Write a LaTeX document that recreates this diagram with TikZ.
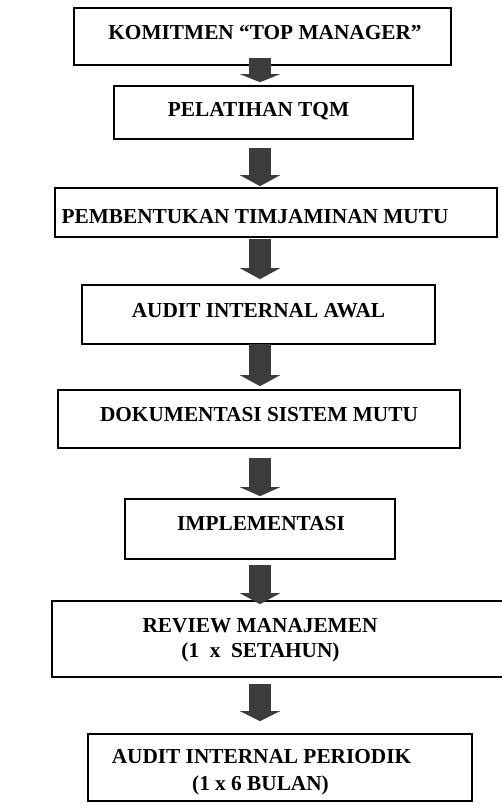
\documentclass[tikz,border=0pt]{standalone}
\usepackage{fontspec}
\setmainfont{Liberation Serif}
\usetikzlibrary{arrows.meta}
\definecolor{arrowgray}{HTML}{3C3C3C}
\tikzset{
  box/.style={draw=black, line width=1.7pt, fill=white, rectangle, inner sep=0pt},
  txt/.style={inner sep=0pt, anchor=base, font=\fontsize{21.3}{25}\selectfont\bfseries},
  blockarrow/.style={draw=arrowgray, line width=22pt, line cap=butt,
    -{Triangle[width=40pt,length=11pt]}}
}
\begin{document}
\begin{tikzpicture}[x=1pt,y=-1pt]
\useasboundingbox (0,0) rectangle (501,805);
% boxes
\node[box, minimum width=377pt, minimum height=57pt] (b1) at (262.5,36.5) {};
\node[box, minimum width=299pt, minimum height=53pt] (b2) at (263.5,112.5) {};
\node[box, minimum width=442pt, minimum height=49pt] (b3) at (276,212.5) {};
\node[box, minimum width=353pt, minimum height=59pt] (b4) at (258.5,314.5) {};
\node[box, minimum width=402pt, minimum height=58pt] (b5) at (259,419) {};
\node[box, minimum width=270pt, minimum height=60pt] (b6) at (260,529) {};
\node[box, minimum width=456pt, minimum height=76pt] (b7) at (280,639) {};
\node[box, minimum width=384pt, minimum height=67pt] (b8) at (280,767.5) {};
% texts
\node[txt] (t1) at (265,40) {KOMITMEN “TOP MANAGER”};
\node[txt] (t2) at (258.5,117) {PELATIHAN TQM};
\node[txt] (t3) at (255,223) {PEMBENTUKAN TIMJAMINAN MUTU};
\node[txt] (t4) at (258.5,317) {AUDIT INTERNAL AWAL};
\node[txt] (t5) at (259,421) {DOKUMENTASI SISTEM MUTU};
\node[txt] (t6) at (261,530) {IMPLEMENTASI};
\node[txt] (t7a) at (260,632) {REVIEW MANAJEMEN};
\node[txt] (t7b) at (260.5,657) {(1\ \ x\ \ SETAHUN)};
\node[txt] (t8a) at (261.5,763) {AUDIT INTERNAL PERIODIK};
\node[txt] (t8b) at (260.5,790) {(1 x 6 BULAN)};
% arrows
\coordinate (xc) at (260,0);
\draw[blockarrow, -{Triangle[width=40pt,length=8pt]}, shorten <=-8pt, shorten >=3pt] (b1.south -| xc) -- (b2.north -| xc);
\draw[blockarrow, shorten <=8pt, shorten >=1pt] (b2.south -| xc) -- (b3.north -| xc);
\draw[blockarrow, shorten <=1pt, shorten >=5pt] (b3.south -| xc) -- (b4.north -| xc);
\draw[blockarrow, shorten <=-1pt, shorten >=3pt] (b4.south -| xc) -- (b5.north -| xc);
\draw[blockarrow, -{Triangle[width=40pt,length=9pt]}, shorten <=9pt, shorten >=2pt] (b5.south -| xc) -- (b6.north -| xc);
\draw[blockarrow, shorten <=5pt, shorten >=-4pt] (b6.south -| xc) -- (b7.north -| xc);
\draw[blockarrow, -{Triangle[width=40pt,length=10pt]}, shorten <=6pt, shorten >=12pt] (b7.south -| xc) -- (b8.north -| xc);
\end{tikzpicture}
\end{document}
